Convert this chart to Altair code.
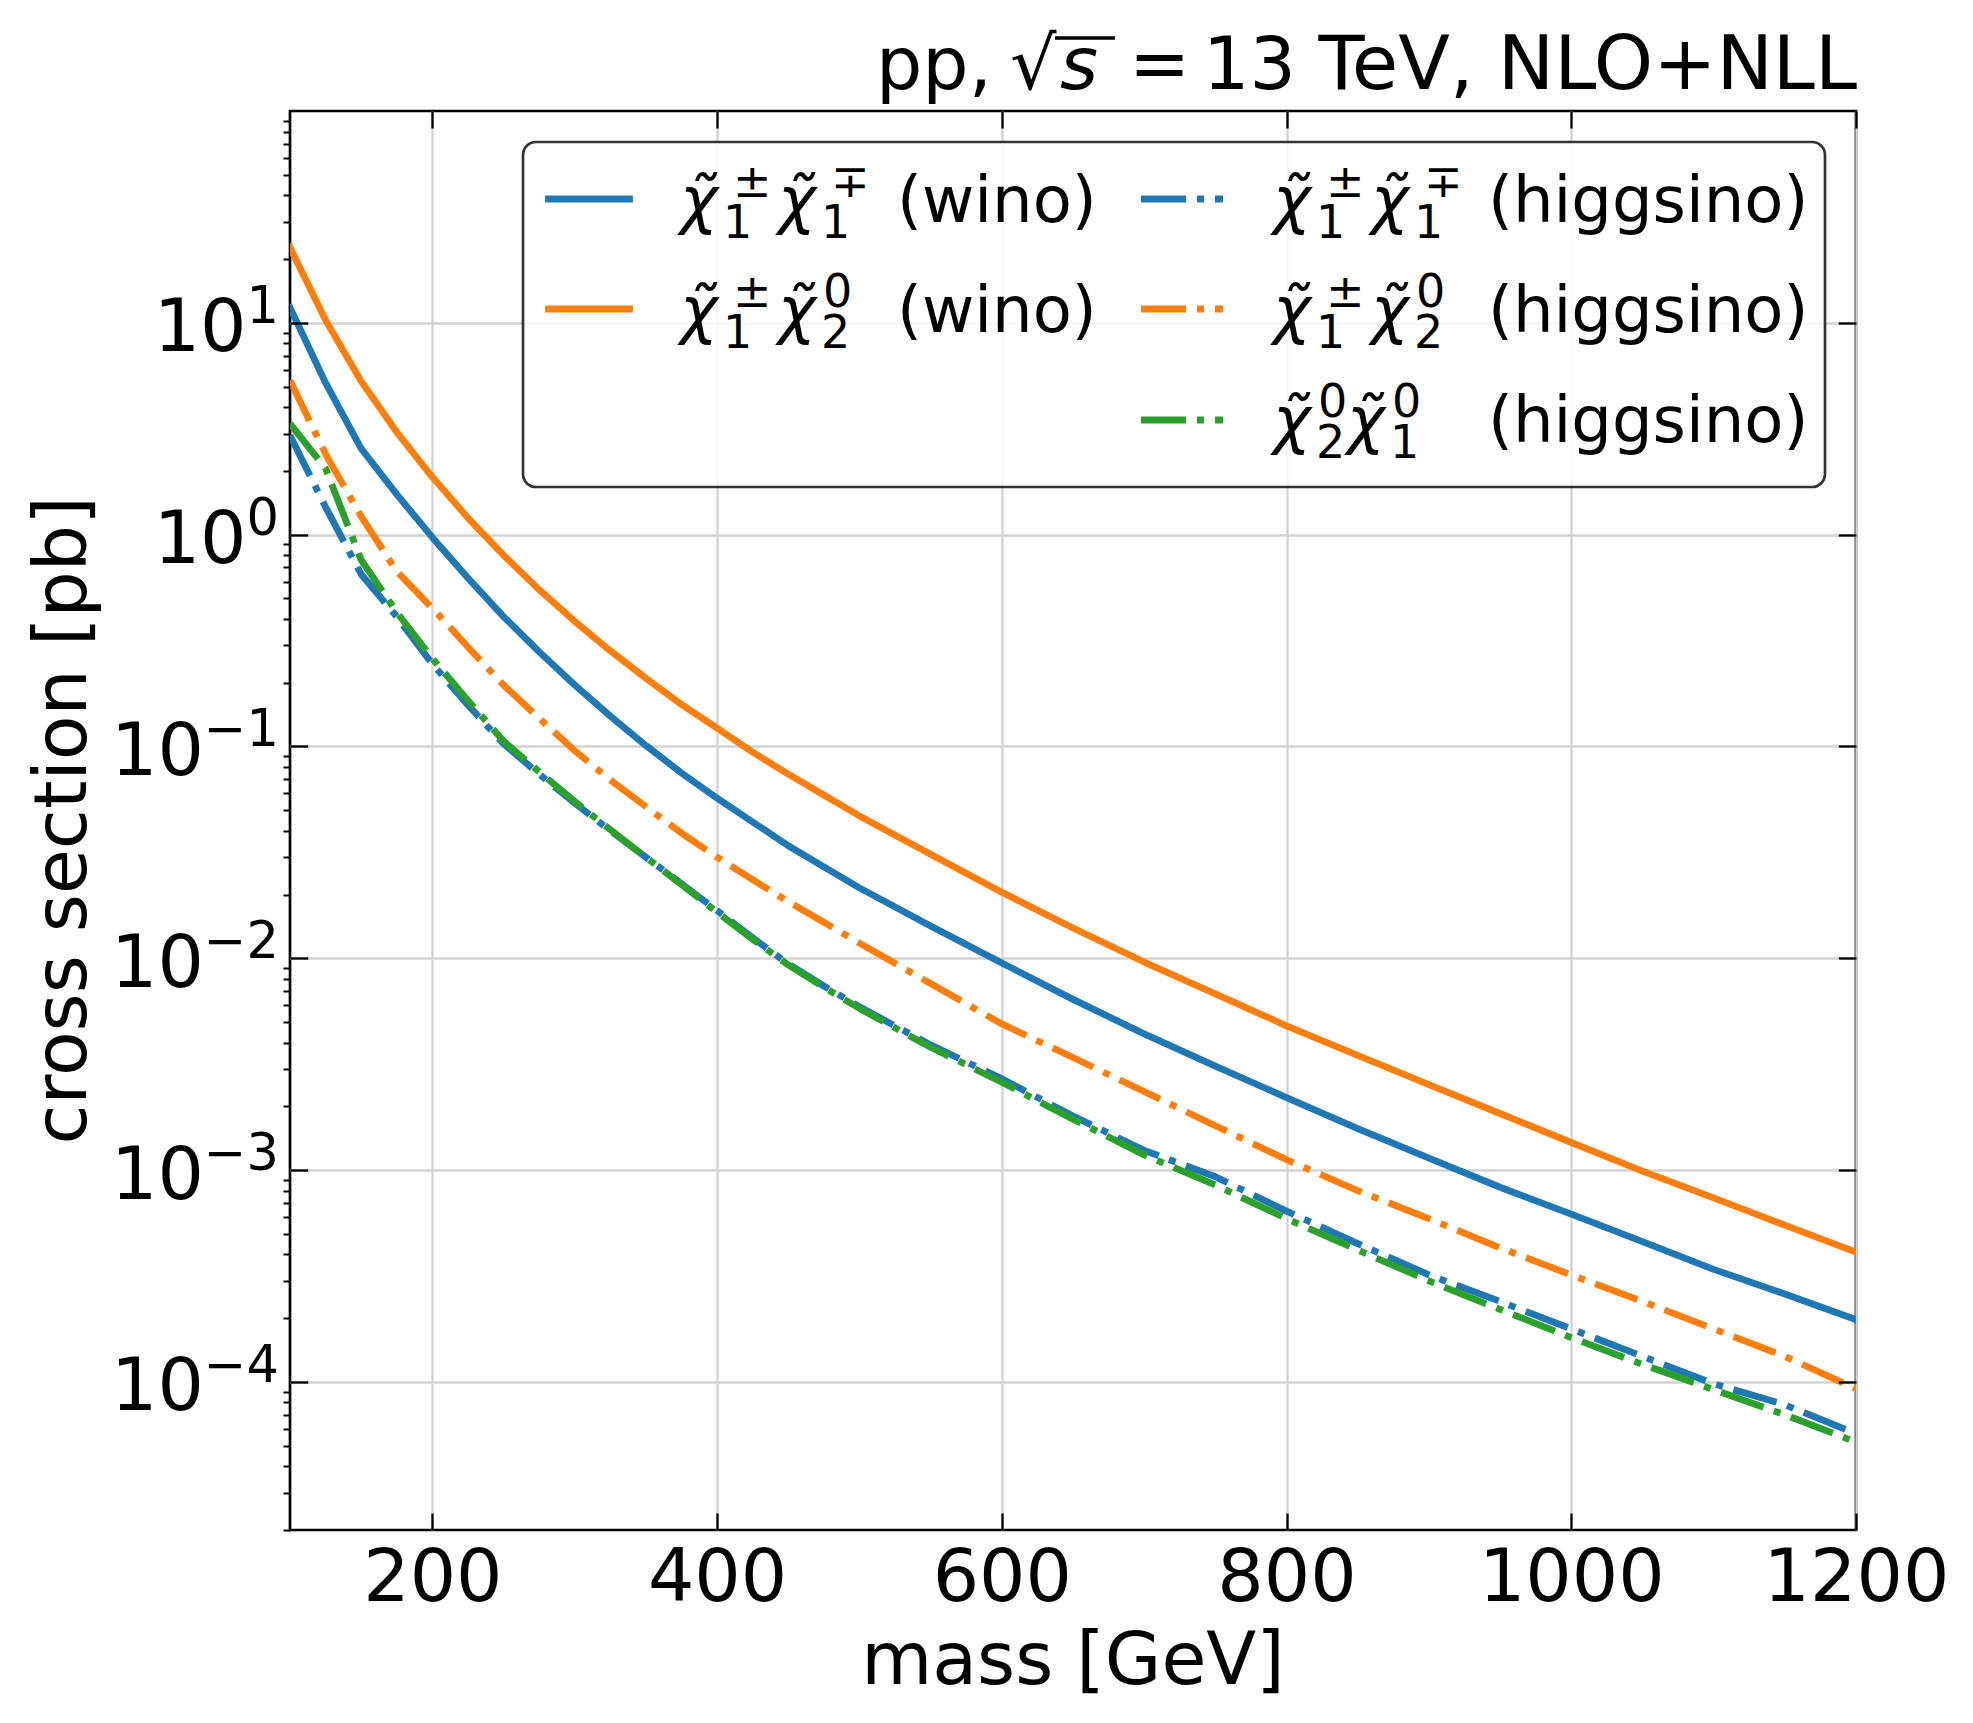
import altair as alt
import pandas as pd

FONT = "DejaVu Sans"

# ---------------- data ----------------
masses = [100, 125, 150, 175, 200, 225, 250, 275, 300, 325, 350, 375, 400, 425, 450,
          475, 500, 550, 600, 650, 700, 750, 800, 850, 900, 950, 1000, 1050, 1100,
          1150, 1200]

wino_c1c1 = [11.8, 5.2, 2.55, 1.55, 0.97, 0.625, 0.41, 0.28, 0.195, 0.139, 0.101,
             0.075, 0.057, 0.044, 0.034, 0.027, 0.0215,
             0.0142, 0.0095, 0.0064, 0.0044, 0.0031, 0.0022, 0.00157, 0.00114,
             0.00083, 0.00062, 0.00046, 0.00034, 0.00026, 0.000197]
wino_c1n2 = [22.7, 10.3, 5.3, 3.05, 1.87, 1.2, 0.80, 0.55, 0.39, 0.283, 0.21,
             0.158, 0.122, 0.094, 0.074, 0.059, 0.047,
             0.031, 0.0205, 0.0139, 0.0096, 0.0068, 0.0048, 0.00348, 0.00253,
             0.00185, 0.00135, 0.00099, 0.00074, 0.00055, 0.00041]
higgsino_c1c1 = [2.94, 1.35, 0.65, 0.41, 0.245, 0.157, 0.103, 0.074, 0.054, 0.040,
                 0.030, 0.0225, 0.0168, 0.0125, 0.0094, 0.0074, 0.0059,
                 0.0039, 0.0027, 0.0018, 0.00124, 0.00093, 0.00064, 0.00045,
                 0.00032, 0.00024, 0.000178, 0.000132, 0.000098, 0.000078, 0.000057]
higgsino_c1n2 = [5.35, 2.4, 1.22, 0.67, 0.45, 0.295, 0.195, 0.136, 0.0955, 0.0695,
                 0.052, 0.039, 0.030, 0.0235, 0.0185, 0.0148, 0.0118,
                 0.0076, 0.0049, 0.0034, 0.00235, 0.00162, 0.00112, 0.00080,
                 0.00059, 0.00043, 0.00032, 0.00024, 0.000178, 0.000132, 0.000093]
higgsino_n2n1 = [3.34, 2.05, 0.76, 0.43, 0.26, 0.165, 0.106, 0.076, 0.055, 0.0405,
                 0.030, 0.0223, 0.0165, 0.0123, 0.0093, 0.0073, 0.0058,
                 0.0038, 0.0026, 0.00174, 0.00118, 0.00085, 0.00059, 0.00042,
                 0.00030, 0.00022, 0.000162, 0.000121, 0.000092, 0.000070, 0.000052]

series_names = ["wino_c1c1", "wino_c1n2", "higgsino_c1c1", "higgsino_c1n2", "higgsino_n2n1"]
series_values = [wino_c1c1, wino_c1n2, higgsino_c1c1, higgsino_c1n2, higgsino_n2n1]
series_colors = ["#1f77b4", "#ff7f0e", "#1f77b4", "#ff7f0e", "#2ca02c"]
series_dashed = [False, False, True, True, True]

# legend labels: list of (superscript, subscript) per chargino/neutralino, then suffix
legend_scripts = [[("±", "1"), ("∓", "1")],
                  [("±", "1"), ("0", "2")],
                  [("±", "1"), ("∓", "1")],
                  [("±", "1"), ("0", "2")],
                  [("0", "2"), ("0", "1")]]
legend_suffix = ["(wino)", "(wino)", "(higgsino)", "(higgsino)", "(higgsino)"]
legend_col = [0, 0, 1, 1, 1]
legend_row = [0, 1, 0, 1, 2]

x_ticks = [200, 400, 600, 800, 1000, 1200]
y_exps = [1, 0, -1, -2, -3, -4]
y_major = [10.0 ** e for e in y_exps]
y_minor = [k * 10.0 ** e for e in range(-5, 2) for k in range(2, 10)]

title_num = "13"
title_rest = " TeV, NLO+NLL"
x_title = "mass [GeV]"
y_title = "cross section [pb]"

# ---------------- layout ----------------
W, H = 1566, 1419
FS = 73          # tick labels / axis titles / title
FS_SUP = 51      # tick-label exponents
FS_LEG = 64      # legend text
FS_LEG_S = 46    # legend scripts
LW = 6.8
DASHDOT = [45, 11, 7, 11]

rows = []
for name, vals in zip(series_names, series_values):
    for m, v in zip(masses, vals):
        rows.append({"mass": m, "xs": v, "series": name})
curves = pd.DataFrame(rows)

xscale = alt.Scale(domain=[100, 1200], nice=False, zero=False)
yscale = alt.Scale(type="log", domain=[2e-5, 100], nice=False)

GRID = "#d3d3d3"
X1 = alt.Axis(orient="bottom", values=x_ticks, grid=True, gridColor=GRID, gridWidth=2.3,
              ticks=False, tickSize=0, domain=False, labels=True, labelFont=FONT,
              labelFontSize=FS, labelColor="black", labelPadding=12, labelAngle=0,
              labelFlush=False, labelOverlap=False, labelLimit=0, format="d",
              title=None, zindex=0)
X2 = alt.Axis(orient="bottom", values=x_ticks, offset=-17, tickSize=17, tickWidth=2.3,
              tickColor="black", ticks=True, labels=False, domain=False, grid=False,
              title=None, zindex=1)
X3 = alt.Axis(orient="top", values=x_ticks, offset=-17, tickSize=17, tickWidth=2.3,
              tickColor="black", ticks=True, labels=False, domain=False, grid=False,
              title=None, zindex=1)
Y1 = alt.Axis(orient="left", values=y_major, grid=True, gridColor=GRID, gridWidth=2.3,
              ticks=False, tickSize=0, labels=False, domain=False, title=None, zindex=0)
Y2 = alt.Axis(orient="left", values=y_major, offset=-17.7, tickSize=17.7, tickWidth=2.3,
              tickColor="black", ticks=True, labels=False, domain=False, grid=False,
              title=None, zindex=1)
Y3 = alt.Axis(orient="left", values=y_minor, tickSize=7, tickWidth=2.0,
              tickColor="black", ticks=True, labels=False, domain=False, grid=False,
              title=None, zindex=1)
Y4 = alt.Axis(orient="right", values=y_major, offset=-17.7, tickSize=17.7, tickWidth=2.3,
              tickColor="black", ticks=True, labels=False, domain=False, grid=False,
              title=None, zindex=1)

axes_x = [X1, X2, X3, None, None]
axes_y = [Y1, Y2, Y3, Y4, None]

layers = []
for i, name in enumerate(series_names):
    kw = dict(color=series_colors[i], strokeWidth=LW, clip=True, strokeJoin="round")
    if series_dashed[i]:
        kw.update(strokeDash=DASHDOT, strokeCap="butt")
    else:
        kw.update(strokeCap="square")
    layers.append(
        alt.Chart(curves).transform_filter(alt.datum.series == name).mark_line(**kw).encode(
            x=alt.X("mass:Q", scale=xscale, axis=axes_x[i]),
            y=alt.Y("xs:Q", scale=yscale, axis=axes_y[i]),
            order=alt.Order("mass:Q"),
        )
    )

# ---- y tick labels: "10" with superscript exponent ----
ADV = {"0": 0.636, "1": 0.636, "2": 0.636, "3": 0.636, "4": 0.636, "−": 0.838}
EXP_RIGHT = -11
ylab = []
for e in y_exps:
    t = str(e).replace("-", "−")
    w = sum(ADV[c] for c in t) * FS_SUP
    ylab.append({"v": 10.0 ** e, "base": "10", "exp": t, "bx": EXP_RIGHT - w})
ylab = pd.DataFrame(ylab)
layers.append(alt.Chart(ylab).mark_text(align="right", baseline="alphabetic", font=FONT,
                                        fontSize=FS, dy=28.5, color="black").encode(
    x=alt.X("bx:Q", scale=None, axis=None),
    y=alt.Y("v:Q", scale=yscale, axis=None), text="base:N"))
layers.append(alt.Chart(ylab).mark_text(align="right", baseline="alphabetic", font=FONT,
                                        fontSize=FS_SUP, dy=0, color="black").encode(
    x=alt.value(EXP_RIGHT),
    y=alt.Y("v:Q", scale=yscale, axis=None), text="exp:N"))

one = pd.DataFrame({"a": [0]})

# ---- axis titles ----
layers.append(alt.Chart(one).mark_text(text=x_title, align="center", baseline="alphabetic",
                                       font=FONT, fontSize=FS, color="black").encode(
    x=alt.value(W / 2), y=alt.value(1573)))
layers.append(alt.Chart(one).mark_text(text=y_title, align="center", baseline="alphabetic",
                                       angle=270, font=FONT, fontSize=FS, color="black").encode(
    x=alt.value(-204), y=alt.value(H / 2)))

# ---- title: pp, sqrt(s) = 13 TeV, NLO+NLL ----
TB = -22
title_pieces = [("pp,", 586, "normal"), ("√", 720, "normal"), ("s", 770, "italic"),
                ("=", 839, "normal"), (title_num, 913, "normal")]
for txt, px, style in title_pieces:
    layers.append(alt.Chart(one).mark_text(text=txt, align="left", baseline="alphabetic",
                                           font=FONT, fontStyle=style, fontSize=FS,
                                           color="black").encode(
        x=alt.value(px), y=alt.value(TB)))
layers.append(alt.Chart(one).mark_text(text=title_rest, align="right", baseline="alphabetic",
                                       font=FONT, fontSize=75.5, color="black").encode(
    x=alt.value(W + 1), y=alt.value(TB)))
layers.append(alt.Chart(one).mark_rule(color="black", strokeWidth=3.6).encode(
    x=alt.value(765), x2=alt.value(825), y=alt.value(-73)))

# ---- legend ----
layers.append(alt.Chart(one).mark_rect(cornerRadius=13, fill="white", fillOpacity=0.8,
                                       stroke="black", strokeOpacity=0.8,
                                       strokeWidth=2.7).encode(
    x=alt.value(233), x2=alt.value(1535), y=alt.value(31), y2=alt.value(376)))

col_line_x = [(258.5, 339.5), (851, 933)]
row_line_y = [88, 198, 309]
samples = []
for i in range(len(series_names)):
    x1, x2 = col_line_x[legend_col[i]]
    samples.append({"x1": x1, "x2": x2, "yy": row_line_y[legend_row[i]],
                    "c": series_colors[i], "dashed": series_dashed[i]})
samples = pd.DataFrame(samples)
layers.append(alt.Chart(samples[~samples.dashed]).mark_rule(strokeWidth=LW, strokeCap="square").encode(
    x=alt.X("x1:Q", scale=None, axis=None), x2="x2:Q",
    y=alt.Y("yy:Q", scale=None, axis=None), color=alt.Color("c:N", scale=None, legend=None)))
layers.append(alt.Chart(samples[samples.dashed]).mark_rule(strokeWidth=LW, strokeCap="butt",
                                                           strokeDash=DASHDOT).encode(
    x=alt.X("x1:Q", scale=None, axis=None), x2="x2:Q",
    y=alt.Y("yy:Q", scale=None, axis=None), color=alt.Color("c:N", scale=None, legend=None)))

col_chi_x = [390, 983]
col_suffix_x = [607, 1198]
row_base_y = [111, 221, 331]
SUB_DX, SUP_DX_PM, SUP_DX_DIG = 43, 53, 45
SUP_DY, SUB_DY = -25, 16
STEP_PM, STEP_DIG = 98, 74

chi_rows, up_rows = [], []
for i in range(len(series_names)):
    x = col_chi_x[legend_col[i]]
    y = row_base_y[legend_row[i]]
    for sup, sub in legend_scripts[i]:
        pm = sup in "±∓"
        chi_rows.append({"t": "\u03c7\u0303", "px": x, "py": y, "fs": FS_LEG})
        up_rows.append({"t": sup, "px": x + (SUP_DX_PM if pm else SUP_DX_DIG),
                        "py": y + SUP_DY, "fs": FS_LEG_S})
        up_rows.append({"t": sub, "px": x + SUB_DX, "py": y + SUB_DY, "fs": FS_LEG_S})
        x += STEP_PM if pm else STEP_DIG
    up_rows.append({"t": legend_suffix[i], "px": col_suffix_x[legend_col[i]], "py": y,
                    "fs": FS_LEG})
chi_df = pd.DataFrame(chi_rows)
up_df = pd.DataFrame(up_rows)
layers.append(alt.Chart(chi_df).mark_text(align="left", baseline="alphabetic", font=FONT,
                                          fontStyle="italic", color="black").encode(
    x=alt.X("px:Q", scale=None, axis=None), y=alt.Y("py:Q", scale=None, axis=None),
    size=alt.Size("fs:Q", scale=None, legend=None), text="t:N"))
layers.append(alt.Chart(up_df).mark_text(align="left", baseline="alphabetic", font=FONT,
                                         color="black").encode(
    x=alt.X("px:Q", scale=None, axis=None), y=alt.Y("py:Q", scale=None, axis=None),
    size=alt.Size("fs:Q", scale=None, legend=None), text="t:N"))

chart = alt.layer(*layers).resolve_axis(x="independent", y="independent").properties(
    width=W, height=H,
    autosize=alt.AutoSizeParams(type="none"),
    padding={"left": 282, "top": 103, "right": 100, "bottom": 180},
).configure(font=FONT, background="white").configure_view(
    stroke="black", strokeWidth=2.7, fill="white")

chart.save("out.html", embed_options={"renderer": "svg", "actions": False})
